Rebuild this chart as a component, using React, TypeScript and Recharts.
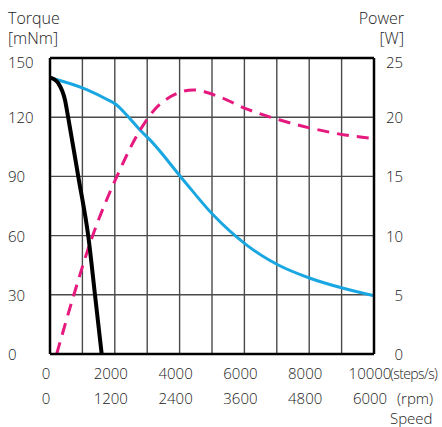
import React from 'react';
import { ComposedChart, Line, XAxis, YAxis, CartesianGrid, ReferenceLine } from 'recharts';

// speed in steps/s, torque in mNm, power in W
const pullOutTorque = [
  { speed: 0, torque: 140 },
  { speed: 120, torque: 139.3 },
  { speed: 257, torque: 137.2 },
  { speed: 463, torque: 128.7 },
  { speed: 565, torque: 119.5 },
  { speed: 873, torque: 89.9 },
  { speed: 1183, torque: 59.5 },
  { speed: 1389, torque: 29.9 },
  { speed: 1595, torque: 0 },
];

const torqueCurve = [
  { speed: 0, torque: 140 },
  { speed: 1133, torque: 134 },
  { speed: 1749, torque: 129.1 },
  { speed: 2058, torque: 126.2 },
  { speed: 2366, torque: 121.1 },
  { speed: 2778, torque: 113.5 },
  { speed: 3086, torque: 108.5 },
  { speed: 4114, torque: 88.2 },
  { speed: 5040, torque: 70.4 },
  { speed: 6071, torque: 55.2 },
  { speed: 7046, torque: 45.1 },
  { speed: 8025, torque: 38.4 },
  { speed: 9053, torque: 33.3 },
  { speed: 10000, torque: 29.5 },
];

const powerCurve = [
  { speed: 206, power: 0 },
  { speed: 719, power: 4.84 },
  { speed: 1235, power: 9.35 },
  { speed: 2108, power: 15.26 },
  { speed: 2778, power: 18.9 },
  { speed: 3395, power: 21.1 },
  { speed: 4423, power: 22.3 },
  { speed: 5247, power: 21.7 },
  { speed: 6019, power: 20.75 },
  { speed: 7099, power: 19.76 },
  { speed: 8077, power: 19.06 },
  { speed: 9105, power: 18.5 },
  { speed: 10000, power: 18.2 },
];

const speedTicks = [0, 1000, 2000, 3000, 4000, 5000, 6000, 7000, 8000, 9000, 10000];
const torqueTicks = [0, 30, 60, 90, 120, 150];
const powerTicks = [0, 5, 10, 15, 20, 25];
const rpmPerStep = 0.6;

const FONT = "'Open Sans', 'Liberation Sans', sans-serif";
const TEXT = '#222';

const SpeedTick = ({ x, y, payload }: any) => {
  if (payload.value % 2000 !== 0) return null;
  return (
    <g fontFamily={FONT} fontSize={15} fill={TEXT} fontWeight={300}>
      <text x={x - 4} y={y + 25} textAnchor="middle">{payload.value}</text>
      <text x={x - 4} y={y + 50} textAnchor="middle">{payload.value * rpmPerStep}</text>
    </g>
  );
};

const TorqueTick = ({ x, y, payload }: any) => (
  <text x={x - 42} y={y + (payload.value === 150 ? 9.5 : 6)} textAnchor="start"
    fontFamily={FONT} fontSize={15} fill={TEXT} fontWeight={300}>
    {payload.value}
  </text>
);

const PowerTick = ({ x, y, payload }: any) => (
  <text x={x + 29} y={y + (payload.value === 25 ? 9.5 : 6)} textAnchor="end"
    fontFamily={FONT} fontSize={15} fill={TEXT} fontWeight={300}>
    {payload.value}
  </text>
);

export default function App() {
  return (
    <div style={{ position: 'absolute', left: 0, top: 0, width: 442, height: 427, background: '#fff' }}>
      <ComposedChart width={442} height={427} margin={{ top: 58, right: 0, bottom: 0, left: 0 }}>
        <CartesianGrid yAxisId="torque" stroke="#4a4a4a" strokeWidth={1.4} />
        <XAxis
          type="number"
          dataKey="speed"
          domain={[0, 10000]}
          ticks={speedTicks}
          height={73}
          tickSize={0}
          tickMargin={0}
          tickLine={false}
          axisLine={{ stroke: '#000', strokeWidth: 2.5 }}
          tick={<SpeedTick />}
          interval={0}
        />
        <YAxis
          yAxisId="torque"
          domain={[0, 150]}
          ticks={torqueTicks}
          width={50}
          tickSize={0}
          tickMargin={0}
          tickLine={false}
          axisLine={{ stroke: '#000', strokeWidth: 2.5 }}
          tick={<TorqueTick />}
          interval={0}
        />
        <YAxis
          yAxisId="power"
          orientation="right"
          domain={[0, 25]}
          ticks={powerTicks}
          width={68}
          tickSize={0}
          tickMargin={0}
          tickLine={false}
          axisLine={{ stroke: '#000', strokeWidth: 2.5 }}
          tick={<PowerTick />}
          interval={0}
        />
        <ReferenceLine yAxisId="torque" y={150} stroke="#000" strokeWidth={2.5} />
        <Line
          yAxisId="torque"
          data={torqueCurve}
          dataKey="torque"
          type="monotone"
          stroke="#1aa7e1"
          strokeWidth={3}
          dot={false}
          isAnimationActive={false}
        />
        <Line
          yAxisId="power"
          data={powerCurve}
          dataKey="power"
          type="monotone"
          stroke="#e6197f"
          strokeWidth={3}
          strokeDasharray="12 8"
          dot={false}
          isAnimationActive={false}
        />
        <Line
          yAxisId="torque"
          data={pullOutTorque}
          dataKey="torque"
          type="monotone"
          stroke="#000"
          strokeWidth={4}
          dot={false}
          isAnimationActive={false}
        />
      </ComposedChart>
      <svg width={442} height={427} style={{ position: 'absolute', left: 0, top: 0, pointerEvents: 'none' }}
        fontFamily={FONT} fontWeight={300} fill={TEXT}>
        <text x={8} y={24} fontSize={16}>Torque</text>
        <text x={8} y={44} fontSize={16}>[mNm]</text>
        <text x={404} y={24} fontSize={16} textAnchor="end">Power</text>
        <text x={404} y={44} fontSize={16} textAnchor="end">[W]</text>
        <text x={390} y={379} fontSize={14} letterSpacing={-0.6}>(steps/s)</text>
        <text x={397} y={404} fontSize={15}>(rpm)</text>
        <text x={390} y={424} fontSize={15}>Speed</text>
      </svg>
    </div>
  );
}
